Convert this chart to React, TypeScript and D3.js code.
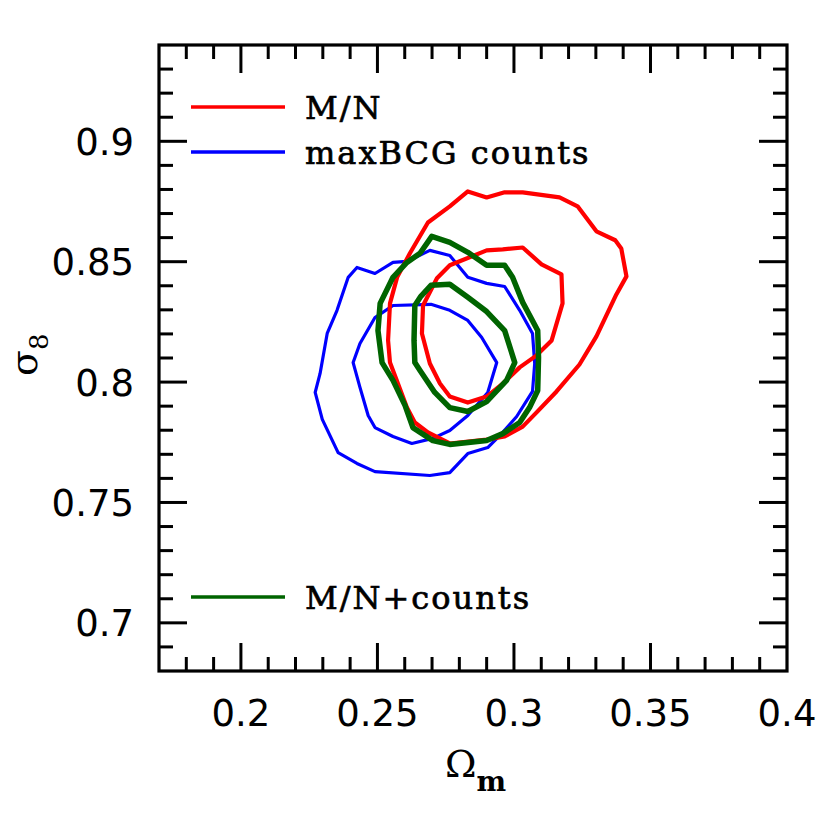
import React from "react";
import * as d3 from "d3";

// Axis domains and tick values
const xDomain: [number, number] = [0.17, 0.4];
const yDomain: [number, number] = [0.68, 0.94];
const xMajorTicks = [0.2, 0.25, 0.3, 0.35, 0.4];
const xTickLabels = ["0.2", "0.25", "0.3", "0.35", "0.4"];
const yMajorTicks = [0.7, 0.75, 0.8, 0.85, 0.9];
const yTickLabels = ["0.7", "0.75", "0.8", "0.85", "0.9"];

// Legend entries
const legendTop = ["M/N", "maxBCG counts"];
const legendBottom = ["M/N+counts"];

// Contours (Omega_m, sigma_8)
const redOuter: [number, number][] = [
  [0.2831, 0.8792], [0.29, 0.8767], [0.2966, 0.8788], [0.3032, 0.8788], [0.3167, 0.8767],
  [0.3233, 0.873], [0.3302, 0.8626], [0.3371, 0.8589], [0.3393, 0.8555], [0.3412, 0.8439],
  [0.3375, 0.8364], [0.3302, 0.819], [0.324, 0.8073], [0.3156, 0.7961], [0.3083, 0.7874],
  [0.3032, 0.7815], [0.2966, 0.7774], [0.29, 0.7761], [0.2765, 0.7745], [0.2685, 0.7791],
  [0.2637, 0.7832], [0.2608, 0.7894], [0.2575, 0.7994], [0.2546, 0.8081], [0.2539, 0.8173],
  [0.2546, 0.8327], [0.2572, 0.8435], [0.2619, 0.8535], [0.2685, 0.8663], [0.2765, 0.873],
];
const redInner: [number, number][] = [
  [0.2765, 0.8485], [0.29, 0.8547], [0.2959, 0.8551], [0.3032, 0.8559], [0.3101, 0.8489],
  [0.3174, 0.8447], [0.3178, 0.8327], [0.3138, 0.8173], [0.3083, 0.8111], [0.3021, 0.8061],
  [0.2959, 0.7994], [0.29, 0.794], [0.2831, 0.7915], [0.2765, 0.794], [0.2729, 0.7994],
  [0.2692, 0.8077], [0.2663, 0.8202], [0.2667, 0.8318], [0.2718, 0.8431],
];
const blueOuter: [number, number][] = [
  [0.2425, 0.8476], [0.2491, 0.8451], [0.2557, 0.8497], [0.2608, 0.8501], [0.2692, 0.8547],
  [0.2765, 0.8526], [0.2831, 0.8435], [0.29, 0.841], [0.2966, 0.8397], [0.3021, 0.8298],
  [0.3068, 0.8202], [0.3076, 0.8077], [0.3068, 0.7961], [0.301, 0.7857], [0.2955, 0.7786],
  [0.2904, 0.7728], [0.2831, 0.7703], [0.2765, 0.7624], [0.2692, 0.7612], [0.2491, 0.7628],
  [0.2425, 0.7662], [0.2356, 0.7707], [0.2298, 0.7845], [0.2272, 0.7957], [0.229, 0.8036],
  [0.2316, 0.8202], [0.2352, 0.8298], [0.2393, 0.8435],
];
const blueInner: [number, number][] = [
  [0.2557, 0.8318], [0.2696, 0.8323], [0.2765, 0.8298], [0.2831, 0.8256], [0.2882, 0.8185],
  [0.2937, 0.8081], [0.2904, 0.7957], [0.2831, 0.7861], [0.2765, 0.7799], [0.2703, 0.7766],
  [0.2626, 0.7745], [0.2557, 0.7774], [0.2491, 0.7811], [0.2466, 0.7861], [0.2436, 0.7978],
  [0.2411, 0.8081], [0.2436, 0.816], [0.2491, 0.8268],
];
const greenOuter: [number, number][] = [
  [0.2699, 0.8605], [0.2765, 0.858], [0.2831, 0.8539], [0.29, 0.8485], [0.2966, 0.8485],
  [0.2995, 0.8435], [0.3032, 0.8331], [0.3087, 0.8214], [0.309, 0.8102], [0.3087, 0.7965],
  [0.3057, 0.7894], [0.3021, 0.7832], [0.2959, 0.7786], [0.29, 0.7757], [0.2765, 0.7741],
  [0.2703, 0.7757], [0.263, 0.7811], [0.2601, 0.7903], [0.2557, 0.8007], [0.2517, 0.8081],
  [0.2502, 0.8214], [0.251, 0.8327], [0.2557, 0.8435], [0.2608, 0.8497], [0.2656, 0.8535],
];
const greenInner: [number, number][] = [
  [0.2696, 0.8402], [0.2765, 0.8406], [0.2831, 0.8352], [0.29, 0.8293], [0.2966, 0.8214],
  [0.3003, 0.8081], [0.2973, 0.8007], [0.29, 0.7919], [0.2831, 0.7878], [0.2765, 0.7894],
  [0.271, 0.7957], [0.2656, 0.8048], [0.2637, 0.8081], [0.2634, 0.8173], [0.2637, 0.8318],
  [0.2659, 0.8356],
];

const RED = "#ff0000";
const BLUE = "#0000ff";
const GREEN = "#006400";

export default function App() {
  const W = 830, H = 830;
  const left = 159, top = 45, right = 787, bottom = 671;
  const x = d3.scaleLinear().domain(xDomain).range([left, right]);
  const y = d3.scaleLinear().domain(yDomain).range([bottom, top]);
  const line = d3
    .line<[number, number]>()
    .x((d) => x(d[0]))
    .y((d) => y(d[1]))
    .curve(d3.curveLinearClosed);

  const xMinor = d3.range(0, 24).map((i) => +(0.17 + i * 0.01).toFixed(3)).filter((v) => v > 0.17 && v < 0.4);
  const yMinor = d3.range(0, 27).map((i) => +(0.68 + i * 0.01).toFixed(3)).filter((v) => v > 0.68 && v < 0.94);
  const isMajor = (v: number) => Math.abs(v * 20 - Math.round(v * 20)) < 1e-6;
  const MAJ = 28, MIN = 14;
  const tickStroke = 3;

  const contours: { d: [number, number][]; c: string; w: number }[] = [
    { d: blueOuter, c: BLUE, w: 3.2 },
    { d: blueInner, c: BLUE, w: 3.2 },
    { d: redOuter, c: RED, w: 4.2 },
    { d: redInner, c: RED, w: 4.2 },
    { d: greenOuter, c: GREEN, w: 5.5 },
    { d: greenInner, c: GREEN, w: 5.5 },
  ];

  const legendFont = "'DejaVu Serif', serif";
  const tickFont = "'DejaVu Sans', sans-serif";
  const serif = "'DejaVu Serif', serif";

  return (
    <svg
      width={W}
      height={H}
      style={{ position: "absolute", left: 0, top: 0, background: "#fff" }}
    >
      <rect x={0} y={0} width={W} height={H} fill="#fff" />
      {contours.map((c, i) => (
        <path key={i} d={line(c.d) || ""} fill="none" stroke={c.c} strokeWidth={c.w} strokeLinejoin="round" />
      ))}

      {/* ticks */}
      <g stroke="#000" strokeWidth={tickStroke}>
        {xMinor.map((v) => {
          const L = isMajor(v) ? MAJ : MIN;
          return (
            <g key={"x" + v}>
              <line x1={x(v)} x2={x(v)} y1={bottom} y2={bottom - L} />
              <line x1={x(v)} x2={x(v)} y1={top} y2={top + L} />
            </g>
          );
        })}
        {yMinor.map((v) => {
          const L = isMajor(v) ? MAJ : MIN;
          return (
            <g key={"y" + v}>
              <line x1={left} x2={left + L} y1={y(v)} y2={y(v)} />
              <line x1={right} x2={right - L} y1={y(v)} y2={y(v)} />
            </g>
          );
        })}
      </g>
      <rect x={left} y={top} width={right - left} height={bottom - top} fill="none" stroke="#000" strokeWidth={3.2} />

      {/* tick labels */}
      {xMajorTicks.map((v, i) => (
        <text key={"xl" + i} x={x(v)} y={726} textAnchor="middle" fontFamily={tickFont} fontSize={37}>
          {xTickLabels[i]}
        </text>
      ))}
      {yMajorTicks.map((v, i) => (
        <text key={"yl" + i} x={134} y={y(v) + 13.5} textAnchor="end" fontFamily={tickFont} fontSize={37}>
          {yTickLabels[i]}
        </text>
      ))}

      {/* axis titles */}
      <text x={445} y={777} fontFamily={serif} fontSize={38}>
        Ω<tspan fontSize={28} fontWeight="bold" dy={14}>m</tspan>
      </text>
      <text transform="translate(37,376) rotate(-90)" fontFamily={serif} fontSize={38}>
        σ<tspan fontSize={26} dy={11}>8</tspan>
      </text>

      {/* legend */}
      <line x1={191} x2={285} y1={107} y2={107} stroke={RED} strokeWidth={3.3} />
      <line x1={191} x2={285} y1={152} y2={152} stroke={BLUE} strokeWidth={3.3} />
      <line x1={191} x2={285} y1={597} y2={597} stroke={GREEN} strokeWidth={3.3} />
      <g fontFamily={legendFont} fontSize={32} letterSpacing={2} fill="#000" stroke="#000" strokeWidth={0.7}>
        <text x={305} y={119}>{legendTop[0]}</text>
        <text x={305} y={164}>{legendTop[1]}</text>
        <text x={305} y={609}>{legendBottom[0]}</text>
      </g>
    </svg>
  );
}
